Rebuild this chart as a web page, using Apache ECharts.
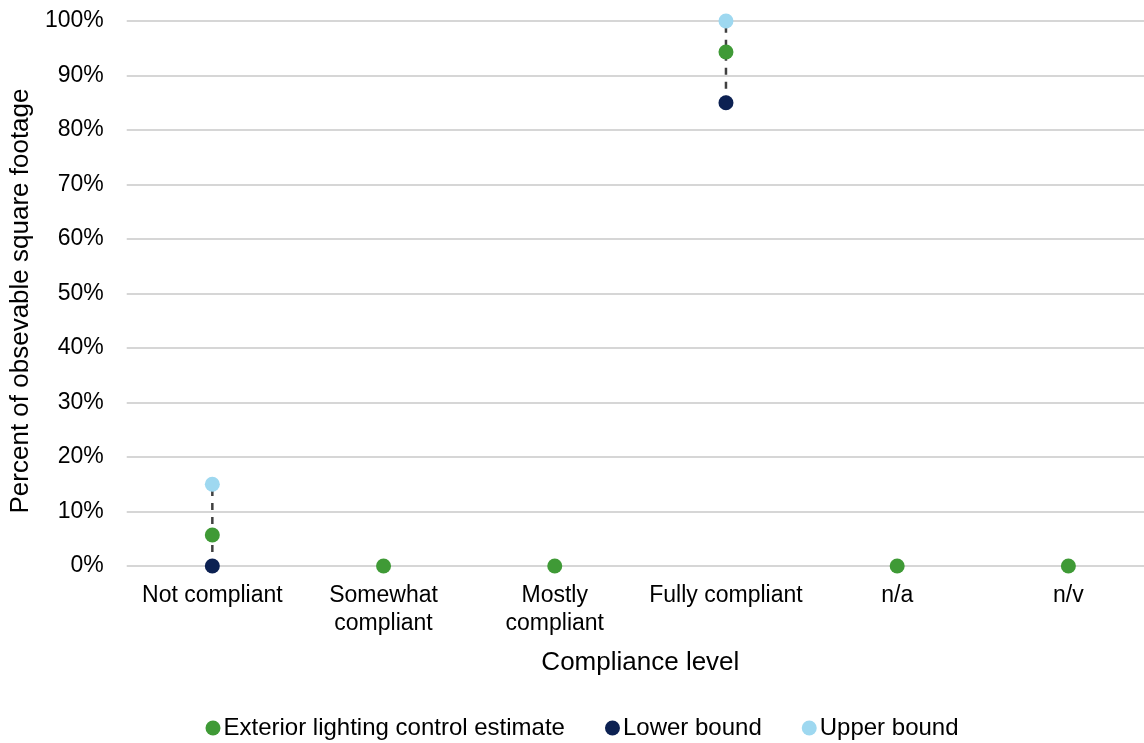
<!DOCTYPE html>
<html><head><meta charset="utf-8">
<script src="https://cdn.jsdelivr.net/npm/echarts@6/dist/echarts.min.js"></script>
<style>html,body{margin:0;padding:0;background:#fff;overflow:hidden}#wrap{width:1144px;height:743px;overflow:hidden}#c{width:1164px;height:743px}</style>
</head><body><div id="wrap"><div id="c"></div></div>
<script>
const categories = ['Not compliant', 'Somewhat\ncompliant', 'Mostly\ncompliant', 'Fully compliant', 'n/a', 'n/v'];
const estimate = [5.7, 0, 0, 94.3, 0, 0];
const lowerBound = [0, null, null, 85, null, null];
const upperBound = [15, null, null, 100, null, null];
const yTicks = [0, 10, 20, 30, 40, 50, 60, 70, 80, 90, 100];

const font = 'Liberation Sans, Arial, sans-serif';
const rangeData = categories.map((c, i) => [i, lowerBound[i], upperBound[i]]).filter(d => d[1] != null);

const chart = echarts.init(document.getElementById('c'));
chart.setOption({
  animation: false,
  textStyle: { fontFamily: font },
  grid: { left: 126, width: 1028, top: 21, height: 545, containLabel: false },
  legend: {
    bottom: -2, left: 'center', itemGap: 40, itemWidth: 15, itemHeight: 15,
    icon: 'circle',
    textStyle: { fontFamily: font, fontSize: 24, color: '#000', padding: [0, 0, 0, -2] },
    data: ['Exterior lighting control estimate', 'Lower bound', 'Upper bound']
  },
  xAxis: {
    type: 'category', data: categories,
    name: 'Compliance level', nameLocation: 'middle', nameGap: 84,
    nameTextStyle: { fontFamily: font, fontSize: 26, color: '#000' },
    axisLine: { show: false }, axisTick: { show: false },
    axisLabel: { fontFamily: font, fontSize: 23, color: '#000', margin: 16, lineHeight: 28, interval: 0 }
  },
  yAxis: {
    type: 'value', min: 0, max: 100, interval: 10,
    name: 'Percent of obsevable square footage', nameLocation: 'middle', nameGap: 91,
    nameTextStyle: { fontFamily: font, fontSize: 26, color: '#000', padding: [0, 15, 0, 0] },
    axisLine: { show: false }, axisTick: { show: false },
    axisLabel: { fontFamily: font, fontSize: 23, color: '#000', margin: 23, formatter: v => v + '%' },
    splitLine: { lineStyle: { color: '#c8c8c8', width: 1.5 } }
  },
  series: [
    {
      type: 'custom', name: 'range', data: rangeData, z: 1, silent: true,
      renderItem: function (params, api) {
        const p1 = api.coord([api.value(0), api.value(1)]);
        const p2 = api.coord([api.value(0), api.value(2)]);
        return { type: 'line', shape: { x1: p1[0], y1: p1[1], x2: p2[0], y2: p2[1] },
          style: { stroke: '#404040', lineWidth: 2.5, lineDash: [7, 7] } };
      }
    },
    { type: 'scatter', name: 'Exterior lighting control estimate', data: estimate, symbolSize: 15, z: 3,
      itemStyle: { color: '#3f9a36', opacity: 1 } },
    { type: 'scatter', name: 'Lower bound', data: lowerBound, symbolSize: 15, z: 3,
      itemStyle: { color: '#0c2152', opacity: 1 } },
    { type: 'scatter', name: 'Upper bound', data: upperBound, symbolSize: 15, z: 3,
      itemStyle: { color: '#9ed8f0', opacity: 1 } }
  ]
});
</script></body></html>
